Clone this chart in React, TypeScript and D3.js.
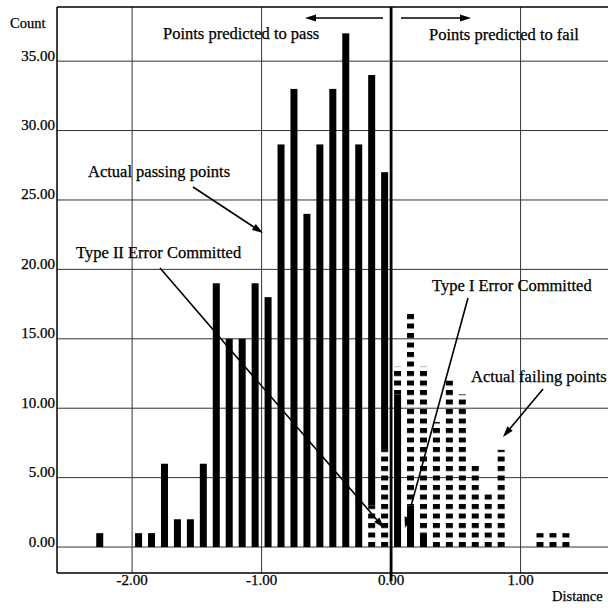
import React from "react";
import * as d3 from "d3";

const binCenters = [-2.25, -1.95, -1.85, -1.75, -1.65, -1.55, -1.45, -1.35, -1.25, -1.15, -1.05, -0.95, -0.85, -0.75, -0.65, -0.55, -0.45, -0.35, -0.25, -0.15, -0.05, 0.05, 0.15, 0.25, 0.35, 0.45, 0.55, 0.65, 0.75, 0.85, 1.15, 1.25, 1.35];
const passingCounts = [1, 1, 1, 6, 2, 2, 6, 19, 15, 15, 19, 18, 29, 33, 24, 29, 33, 37, 29, 31, 20, 11, 3, 1, 0, 0, 0, 0, 0, 0, 0, 0, 0];
const failingCounts = [0, 0, 0, 0, 0, 0, 0, 0, 0, 0, 0, 0, 0, 0, 0, 0, 0, 0, 0, 3, 7, 2, 14, 12, 9, 12, 11, 6, 4, 7, 1, 1, 1];
const yTicks = [0, 5, 10, 15, 20, 25, 30, 35];
const xTicks = [-2, -1, 0, 1];

const W = 608;
const H = 608;
const left = 57;
const top = 7;
const bottom = 573;
const right = 608;

export default function App() {
  const x = d3.scaleLinear().domain([-2.58, 1.675]).range([left, right]);
  const y = d3.scaleLinear().domain([-1.87, 38.9]).range([bottom, top]);
  const bw = 7;
  const y0 = y(0);
  const fmt = (t: number) => (t < 0 ? "-" : "") + Math.abs(t).toFixed(2);

  const segs: { x: number; y1: number; y2: number; kind: string }[] = [];
  binCenters.forEach((c, i) => {
    const p = passingCounts[i];
    const f = failingCounts[i];
    const order = c < 0 ? [["fail", f], ["pass", p]] : [["pass", p], ["fail", f]];
    let acc = 0;
    order.forEach(([k, v]) => {
      const val = v as number;
      if (val > 0) {
        segs.push({ x: x(c), y1: y(acc), y2: y(acc + val), kind: k as string });
        acc += val;
      }
    });
  });

  const arrow = (x1: number, y1: number, x2: number, y2: number, key: string) => {
    const ang = Math.atan2(y2 - y1, x2 - x1);
    const L = 11;
    const Wd = 3.5;
    const bx = x2 - L * Math.cos(ang);
    const by = y2 - L * Math.sin(ang);
    const px = -Math.sin(ang) * Wd;
    const py = Math.cos(ang) * Wd;
    return (
      <g key={key}>
        <line x1={x1} y1={y1} x2={bx} y2={by} stroke="#000" strokeWidth={1.6} />
        <polygon points={`${x2},${y2} ${bx + px},${by + py} ${bx - px},${by - py}`} fill="#000" />
      </g>
    );
  };

  const font = "'Liberation Serif', 'Times New Roman', serif";

  return (
    <svg width={W} height={H} style={{ position: "absolute", left: 0, top: 0, background: "#fff" }} fontFamily={font}>
      <defs>
        <pattern id="dash" patternUnits="userSpaceOnUse" x={0} y={y0 - 5} width={20} height={9.5}>
          <rect x={0} y={0} width={20} height={5} fill="#000" />
        </pattern>
      </defs>
      <rect x={0} y={0} width={W} height={H} fill="#fff" />
      {yTicks.map((t) => (
        <line key={"gy" + t} x1={left} x2={right} y1={y(t)} y2={y(t)} stroke="#333" strokeWidth={1} />
      ))}
      {xTicks.filter((t) => t !== 0).map((t) => (
        <line key={"gx" + t} x1={x(t)} x2={x(t)} y1={top} y2={bottom} stroke="#333" strokeWidth={1} />
      ))}
      {segs.map((s, i) => (
        <rect key={"b" + i} x={s.x - bw / 2} y={s.y2} width={bw} height={s.y1 - s.y2} fill={s.kind === "pass" ? "#000" : "url(#dash)"} />
      ))}
      <line x1={left} x2={right} y1={top} y2={top} stroke="#000" strokeWidth={1.5} />
      <line x1={left} x2={right} y1={bottom} y2={bottom} stroke="#000" strokeWidth={1.5} />
      <line x1={left} x2={left} y1={top} y2={bottom} stroke="#000" strokeWidth={1.5} />
      <line x1={x(0)} x2={x(0)} y1={top} y2={bottom + 8} stroke="#000" strokeWidth={2.8} />
      <g stroke="#000" strokeWidth={0.25}>
        {yTicks.map((t) => (
          <text key={"ty" + t} x={55} y={y(t) - 0.5} fontSize={15} textAnchor="end">{fmt(t)}</text>
        ))}
        {xTicks.map((t) => (
          <text key={"tx" + t} x={x(t)} y={585} fontSize={15} textAnchor="middle">{fmt(t)}</text>
        ))}
        <text x={10} y={28} fontSize={14.5}>Count</text>
        <text x={552} y={601} fontSize={14.5}>Distance</text>
        <text x={163} y={39} fontSize={16.5}>Points predicted to pass</text>
        <text x={429} y={40} fontSize={16.5}>Points predicted to fail</text>
        <text x={88} y={177} fontSize={16.5}>Actual passing points</text>
        <text x={76} y={258} fontSize={16.5}>Type II Error Committed</text>
        <text x={432} y={291} fontSize={16.5}>Type I Error Committed</text>
        <text x={471} y={382} fontSize={16.5}>Actual failing points</text>
      </g>
      {arrow(383, 18, 305, 18, "a1")}
      {arrow(401, 18, 471, 18, "a2")}
      {arrow(193, 187, 263, 233, "a3")}
      {arrow(160, 268, 384, 528, "a4")}
      {arrow(468, 298, 405, 528, "a5")}
      {arrow(543, 389, 503, 437, "a6")}
    </svg>
  );
}
